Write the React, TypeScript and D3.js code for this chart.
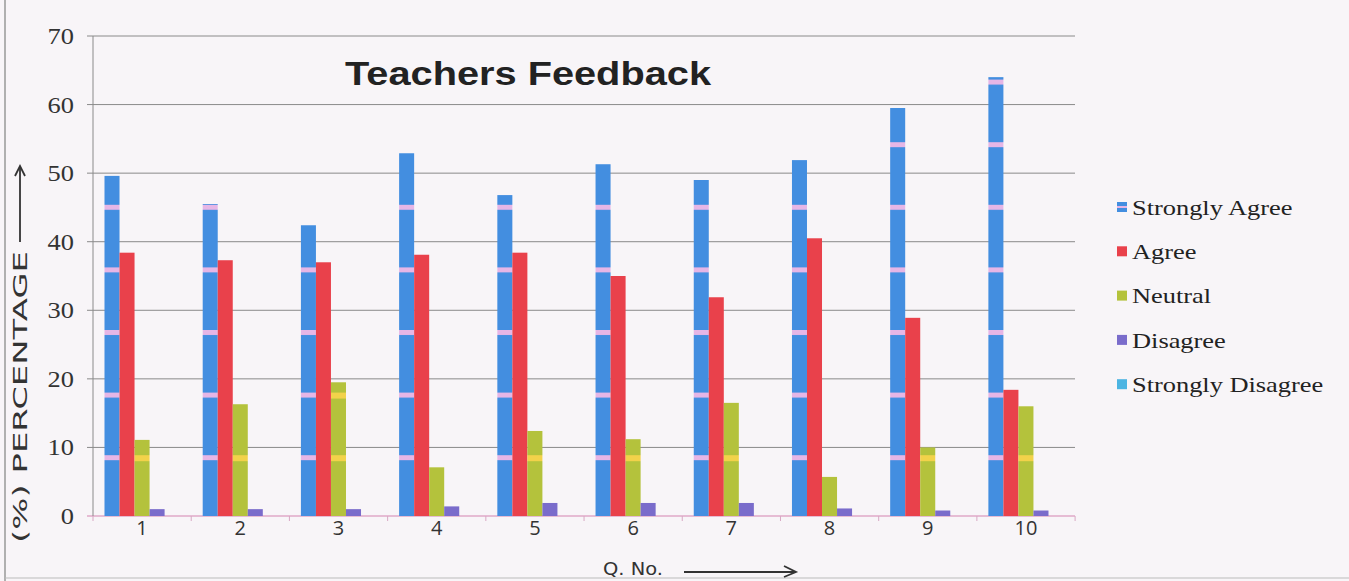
import React from "react";
import * as d3 from "d3";

const questions = ["1", "2", "3", "4", "5", "6", "7", "8", "9", "10"];
const seriesNames = ["Strongly Agree", "Agree", "Neutral", "Disagree", "Strongly Disagree"];
const stronglyAgree = [49.6, 45.5, 42.4, 52.9, 46.8, 51.3, 49.0, 51.9, 59.5, 64.0];
const agree = [38.4, 37.3, 37.0, 38.1, 38.4, 35.0, 31.9, 40.5, 28.9, 18.4];
const neutral = [11.1, 16.3, 19.5, 7.1, 12.4, 11.2, 16.5, 5.7, 10.0, 16.0];
const disagree = [1.0, 1.0, 1.0, 1.4, 1.9, 1.9, 1.9, 1.1, 0.8, 0.8];
const stronglyDisagree = [0, 0, 0, 0, 0, 0, 0, 0, 0, 0];
const yTicks = [0, 10, 20, 30, 40, 50, 60, 70];

const seriesValues = [stronglyAgree, agree, neutral, disagree, stronglyDisagree];
const colors = ["#438ee0", "#e9414b", "#b4c23c", "#7a6ccb", "#4cb4e2"];
const fills = ["url(#stripeBlue)", "#e9414b", "url(#stripeYellow)", "#7a6ccb", "#4cb4e2"];

export default function App() {
  const W = 1349, H = 581;
  const left = 93, right = 1075, top = 36, bottom = 516;
  const x = d3.scaleBand<string>().domain(questions).range([left, right]).paddingInner(0.235).paddingOuter(0.117);
  const x1 = d3.scaleBand<string>().domain(seriesNames).range([0, x.bandwidth()]);
  const y = d3.scaleLinear().domain([0, 70]).range([bottom, top]);
  const step = x.step();
  const boundaries = d3.range(questions.length + 1).map((i) => left + i * step);
  const serif = "'Liberation Serif', 'DejaVu Serif', serif";

  return (
    <svg width={W} height={H} style={{ position: "fixed", left: 0, top: 0, background: "#f8f5f8" }}>
      <defs>
        <pattern id="stripeBlue" patternUnits="userSpaceOnUse" width="20" height="62.6" y="17">
          <rect width="20" height="62.6" fill="#438ee0" />
          <rect y="0" width="20" height="5" fill="#e6b6e6" />
        </pattern>
        <pattern id="stripeYellow" patternUnits="userSpaceOnUse" width="20" height="62.6" y="17">
          <rect width="20" height="62.6" fill="#b4c23c" />
          <rect y="0" width="20" height="6" fill="#f2d24a" />
        </pattern>
      </defs>
      <rect x={0} y={0} width={W} height={H} fill="#f8f5f8" />
      <line x1={5} x2={5} y1={0} y2={H} stroke="#999" strokeWidth={1.5} />
      <line x1={5} x2={W} y1={578} y2={578} stroke="#bbb" strokeWidth={1} />
      {/* grid */}
      {yTicks.map((t) => (
        <line key={t} x1={left - 6} x2={right} y1={y(t)} y2={y(t)} stroke={t === 0 ? "#e0a8c8" : "#8a8a8a"} strokeWidth={t === 0 ? 1.5 : 1} />
      ))}
      <line x1={left} x2={left} y1={top} y2={bottom} stroke="#8a8a8a" strokeWidth={1} />
      {boundaries.map((b, i) => (
        <line key={i} x1={b} x2={b} y1={bottom} y2={bottom + 5} stroke="#d8a8c4" strokeWidth={1} />
      ))}
      {yTicks.map((t) => (
        <text key={t} x={74} y={y(t)} dy="0.35em" textAnchor="end" fontFamily={serif} fontSize={23} fill="#333" transform={`translate(74,0) scale(1.15,1) translate(-74,0)`}>
          {t}
        </text>
      ))}
      {/* bars */}
      {questions.map((q, qi) => (
        <g key={q} transform={`translate(${x(q)},0)`}>
          {seriesNames.map((s, si) => {
            const v = seriesValues[si][qi];
            return (
              <rect key={s} x={x1(s)} y={y(v)} width={x1.bandwidth()} height={y(0) - y(v)} fill={fills[si]} />
            );
          })}
        </g>
      ))}
      {questions.map((q) => (
        <text key={q} x={(x(q) as number) + x.bandwidth() / 2} y={528} dy="0.35em" textAnchor="middle" fontFamily="'Open Sans', 'DejaVu Sans', sans-serif" fontSize={20} fill="#333">
          {q}
        </text>
      ))}
      <text x={528} y={85} textAnchor="middle" fontFamily="'Liberation Sans', Arial, sans-serif" fontWeight="bold" fontSize={33} fill="#222" textLength={366} lengthAdjust="spacingAndGlyphs">
        Teachers Feedback
      </text>
      {/* legend */}
      {seriesNames.map((s, i) => (
        <g key={s} transform={`translate(1117,${207 + i * 44.3})`}>
          <rect x={0} y={-5} width={10} height={10} fill={colors[i]} />
          {i === 0 && <rect x={0} y={-1} width={10} height={2} fill="#e6b6e6" />}
          <g transform="translate(15,0) scale(1.2,1)">
            <text x={0} y={0} dy="0.35em" fontFamily={serif} fontSize={22} fill="#222">
              {s}
            </text>
          </g>
        </g>
      ))}
      {/* handwritten axis titles */}
      <g transform="translate(20,397) rotate(-90)">
        <text x={0} y={0} dy="0.35em" textAnchor="middle" fontFamily="'DejaVu Sans', sans-serif" fontSize={19} fill="#333" textLength={292} lengthAdjust="spacingAndGlyphs">
          (%) PERCENTAGE
        </text>
        <line x1={155} x2={230} y1={0} y2={0} stroke="#333" strokeWidth={1.8} />
        <path d="M221,-5 L231,0 L221,5" fill="none" stroke="#333" strokeWidth={1.8} />
      </g>
      <text x={633} y={575} textAnchor="middle" fontFamily="'DejaVu Sans', sans-serif" fontSize={18} fill="#333" textLength={60} lengthAdjust="spacingAndGlyphs">
        Q. No.
      </text>
      <line x1={684} x2={795} y1={572} y2={572} stroke="#333" strokeWidth={1.8} />
      <path d="M784,566 L796,572 L784,577" fill="none" stroke="#333" strokeWidth={1.8} />
    </svg>
  );
}
